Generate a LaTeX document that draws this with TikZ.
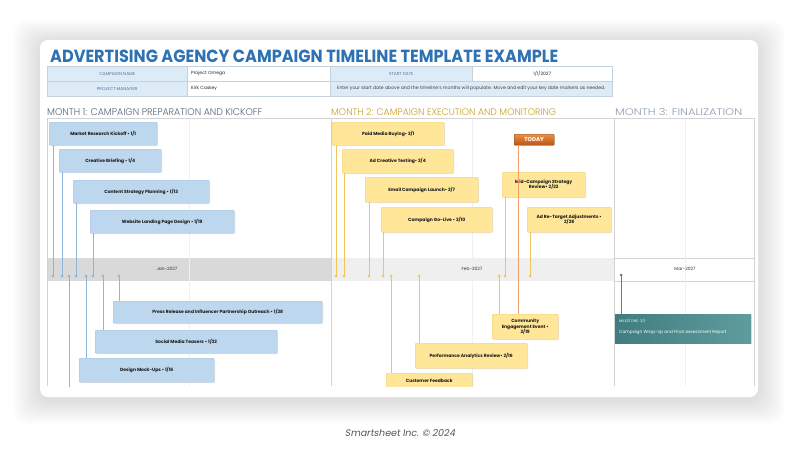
\documentclass[tikz,border=0pt]{standalone}
\usepackage{fontspec}
\setmainfont{Poppins}
\IfFontExistsTF{Poppins Light}{\newfontfamily\lightfont{Poppins Light}}{\newfontfamily\lightfont{Poppins}}
\newfontfamily\footfont{Poppins}[FakeSlant=0.18]
\usetikzlibrary{calc,shadows}
\definecolor{titleblue}{HTML}{2E72B4}
\definecolor{labfill}{HTML}{DDEBF7}
\definecolor{labtext}{HTML}{4F77A6}
\definecolor{cellline}{HTML}{C5D1DC}
\definecolor{mone}{HTML}{56657A}
\definecolor{mtwo}{HTML}{C9A02A}
\definecolor{mthree}{HTML}{8C9DB0}
\definecolor{bluefill}{HTML}{BDD7EE}
\definecolor{blueedge}{HTML}{A4C3E2}
\definecolor{blueline}{HTML}{8FB4DA}
\definecolor{yelfill}{HTML}{FFE699}
\definecolor{yeledge}{HTML}{F0D27A}
\definecolor{yelline}{HTML}{EDC65E}
\definecolor{janband}{HTML}{D9D9D9}
\definecolor{febband}{HTML}{EFEFEF}
\definecolor{gridline}{HTML}{D3D3D3}
\definecolor{faintline}{HTML}{F0F0F0}
\definecolor{todaytop}{HTML}{E8904A}
\definecolor{todaybot}{HTML}{B85512}
\definecolor{todayline}{HTML}{F0A06A}
\definecolor{tealL}{HTML}{3F7D80}
\definecolor{tealR}{HTML}{5E9C9E}
\definecolor{msline}{HTML}{5E7E96}
\definecolor{footgrey}{HTML}{555555}
\tikzset{
  cellL/.style={draw=cellline, line width=0.4pt, fill=labfill, text=labtext, font=\fontsize{4.3}{5}\selectfont, inner sep=0pt, anchor=north west, minimum height=15pt},
  cellV/.style={draw=cellline, line width=0.4pt, fill=white, text=black!85, font=\fontsize{4.5}{5}\selectfont, inner sep=0pt, anchor=north west, minimum height=15pt},
  taskbox/.style={anchor=north west, inner sep=0pt, rounded corners=1pt, line width=0.4pt, align=center, font=\bfseries\fontsize{4.5}{5.6}\selectfont, text=black!90, drop shadow={shadow xshift=0.8pt, shadow yshift=-0.9pt, opacity=0.18}},
  bluebox/.style={taskbox, fill=bluefill, draw=blueedge},
  yelbox/.style={taskbox, fill=yelfill, draw=yeledge},
  bconn/.style={draw=blueline, line width=0.8pt},
  yconn/.style={draw=yelline, line width=0.8pt},
  bdot/.style={fill=blueline},
  ydot/.style={fill=yelline},
  bandlabel/.style={font=\fontsize{4.4}{5}\selectfont, text=black!80, inner sep=0pt}
}
\begin{document}
\begin{tikzpicture}[x=1pt,y=-1pt]
\useasboundingbox (0,0) rectangle (800,450);
% card halo
\foreach \i in {1,...,16}{
  \fill[black, opacity=0.0065, rounded corners=14pt] (40-\i*1.7, 42-\i*1.4) rectangle (758+\i*1.7, 400+\i*1.5);
}
\fill[white, rounded corners=8pt] (40,40) rectangle (758,397);

% title
\node[anchor=base west, inner sep=0pt, text=titleblue] (title) at (50,62)
  {\resizebox{508pt}{12.5pt}{\bfseries ADVERTISING AGENCY CAMPAIGN TIMELINE TEMPLATE EXAMPLE}};

% header table
\node[cellL, minimum width=140pt] (cn) at (47,66) {CAMPAIGN NAME};
\node[cellV, minimum width=143pt, text width=135pt, align=left, inner xsep=4pt] (cnv) at (187,66) {Project Omega};
\node[cellL, minimum width=142pt] (sd) at (330,66) {START DATE};
\node[cellV, minimum width=140pt] (sdv) at (472,66) {1/1/2027};
\node[cellL, minimum width=140pt] (pm) at (47,81) {PROJECT MANAGER};
\node[cellV, minimum width=143pt, text width=135pt, align=left, inner xsep=4pt] (pmv) at (187,81) {Kirk Caskey};
\node[cellL, minimum width=282pt, text=black!75] (note) at (330,81)
  {\resizebox{268pt}{!}{\fontsize{4}{5}\selectfont Enter your start date above and the timeline's months will populate. Move and edit your key date markers as needed.}};

% month headings
\node[anchor=base west, inner sep=0pt, text=mone] (m1) at (47,115.5) {\resizebox{215pt}{7pt}{\lightfont MONTH 1: CAMPAIGN PREPARATION AND KICKOFF}};
\node[anchor=base west, inner sep=0pt, text=mtwo] (m2) at (331,115.5) {\resizebox{225pt}{7pt}{\lightfont MONTH 2: CAMPAIGN EXECUTION AND MONITORING}};
\node[anchor=base west, inner sep=0pt, text=mthree] (m3) at (615,115.5) {\resizebox{127pt}{7pt}{\lightfont MONTH 3: FINALIZATION}};

\begin{scope}
\clip (40,100) rectangle (758,386);
% bands
\fill[janband] (47,258) rectangle (331,281);
\fill[febband] (331,258) rectangle (614,281);
\draw[gridline, line width=0.5pt] (614,258) -- (754,258) (614,281) -- (754,281);
% grid
\draw[faintline, line width=0.5pt] (189,118) -- (189,386) (472,118) -- (472,386) (685,118) -- (685,386);
\draw[gridline, line width=0.5pt] (47,118) -- (754,118);
\draw[gridline, line width=0.5pt] (47,118) -- (47,386) (331,118) -- (331,386) (614,118) -- (614,386) (754,118) -- (754,386);
\node[bandlabel] (jan) at (167,269) {Jan-2027};
\node[bandlabel] (feb) at (472,269) {Feb-2027};
\node[bandlabel] (mar) at (685,269) {Mar-2027};

% dot coordinates
\foreach \n/\x in {d1/53,d2/62,d3/69,d4/76,d5/86,d6/93,d7/103,d8/119,
                   e1/336,e2/344,e3/369,e4/383,e5/391,e6/419,e7/499,e8/505,e9/530}{
  \coordinate (\n) at (\x,276);
}
\coordinate (d3end) at (69,390);
\coordinate (tdl) at (518,0);
\coordinate (ms) at (621,275);

% month 1 task boxes
\path
  node[bluebox, minimum width=108pt, minimum height=23pt] (b1) at (49,122) {Market Research Kickoff • 1/1}
  node[bluebox, minimum width=102pt, minimum height=23pt] (b2) at (59,149) {Creative Briefing • 1/4}
  node[bluebox, minimum width=136pt, minimum height=23pt] (b3) at (73,180) {Content Strategy Planning • 1/13}
  node[bluebox, minimum width=144pt, minimum height=23pt] (b4) at (90,210) {Website Landing Page Design • 1/19}
  node[bluebox, minimum width=209pt, minimum height=22pt] (b5) at (113,301) {Press Release and Influencer Partnership Outreach • 1/28}
  node[bluebox, minimum width=182pt, minimum height=23pt] (b6) at (95,330) {Social Media Teasers • 1/22}
  node[bluebox, minimum width=135pt, minimum height=24pt] (b7) at (79,358) {Design Mock-Ups • 1/16};

% connectors month 1
\draw[bconn] (d1 |- b1.south) -- (d1);
\draw[bconn] (d2 |- b2.south) -- (d2);
\draw[bconn] (d4 |- b3.south) -- (d4);
\draw[bconn] (d6 |- b4.south) -- (d6);
\draw[bconn] (d3) -- (d3end);
\draw[bconn] (d5) -- (d5 |- b7.north);
\draw[bconn] (d7) -- (d7 |- b6.north);
\draw[bconn] (d8) -- (d8 |- b5.north);
\foreach \n in {d1,d2,d3,d4,d5,d6,d7,d8}{ \fill[bdot] (\n) circle (1.5pt); }

% month 2 nodes
\node[anchor=north west, inner sep=0pt, minimum width=40pt, minimum height=11pt, top color=todaytop, bottom color=todaybot, draw=todaybot!80!black, line width=0.3pt, rounded corners=0.8pt, text=white, font=\bfseries\fontsize{5.6}{6}\selectfont, drop shadow={shadow xshift=0.6pt, shadow yshift=-0.7pt, opacity=0.2}] (today) at (514,134) {TODAY};
\path
  node[yelbox, minimum width=112pt, minimum height=23pt] (y1) at (332,122) {Paid Media Buying• 2/1}
  node[yelbox, minimum width=111pt, minimum height=24pt] (y2) at (342,149) {Ad Creative Testing• 2/4}
  node[yelbox, minimum width=113pt, minimum height=25pt] (y3) at (365,177) {Email Campaign Launch• 2/7}
  node[yelbox, minimum width=111pt, minimum height=25pt] (y4) at (381,207) {Campaign Go-Live • 2/10}
  node[yelbox, minimum width=83pt, minimum height=25pt] (y5) at (502,172) {Mid-Campaign Strategy\\Review• 2/22}
  node[yelbox, minimum width=84pt, minimum height=25pt] (y6) at (527,207) {Ad Re-Target Adjustments •\\2/28}
  node[yelbox, minimum width=66pt, minimum height=25pt] (y7) at (492,314) {Community\\Engagement Event •\\2/19}
  node[yelbox, minimum width=112pt, minimum height=25pt] (y8) at (415,343) {Performance Analytics Review• 2/16}
  node[yelbox, minimum width=86pt, minimum height=16pt] (y9) at (386,373) {Customer Feedback};

% connectors month 2
\draw[draw=todayline, line width=0.9pt] (today.south -| tdl) -- (tdl |- y7.north);
\draw[yconn] (e1 |- y1.south) -- (e1);
\draw[yconn] (e2 |- y2.south) -- (e2);
\draw[yconn] (e3 |- y3.south) -- (e3);
\draw[yconn] (e4 |- y4.south) -- (e4);
\draw[yconn] (e8 |- y5.south) -- (e8);
\draw[yconn] (e9 |- y6.south) -- (e9);
\draw[yconn] (e5) -- (e5 |- y9.north);
\draw[yconn] (e6) -- (e6 |- y8.north);
\draw[yconn] (e7) -- (e7 |- y7.north);
\foreach \n in {e1,e2,e3,e4,e5,e6,e7,e8,e9}{ \fill[ydot] (\n) circle (1.5pt); }
\end{scope}

% month 3 milestone
\node[anchor=north west, inner sep=0pt, minimum width=136pt, minimum height=29pt, left color=tealL, right color=tealR, drop shadow={shadow xshift=0.8pt, shadow yshift=-0.9pt, opacity=0.2}] (mb) at (615,314) {};
\draw[draw=msline, line width=0.9pt] (ms) -- (ms |- mb.north);
\fill[msline] (ms) circle (1.5pt);
\node[anchor=west, inner sep=0pt, text=white!92!teal, font=\fontsize{3.7}{4}\selectfont] (mst) at (619,321) {MILESTONE: 3/1};
\node[anchor=west, inner sep=0pt, text=white, font=\fontsize{4.3}{5}\selectfont] (msd) at (619,332) {Campaign Wrap-Up and Final Assessment Report};

% footer
\node[font=\footfont\fontsize{9.5}{11}\selectfont, text=footgrey, inner sep=0pt] (foot) at (400,433) {Smartsheet Inc. © 2024};
\end{tikzpicture}
\end{document}
